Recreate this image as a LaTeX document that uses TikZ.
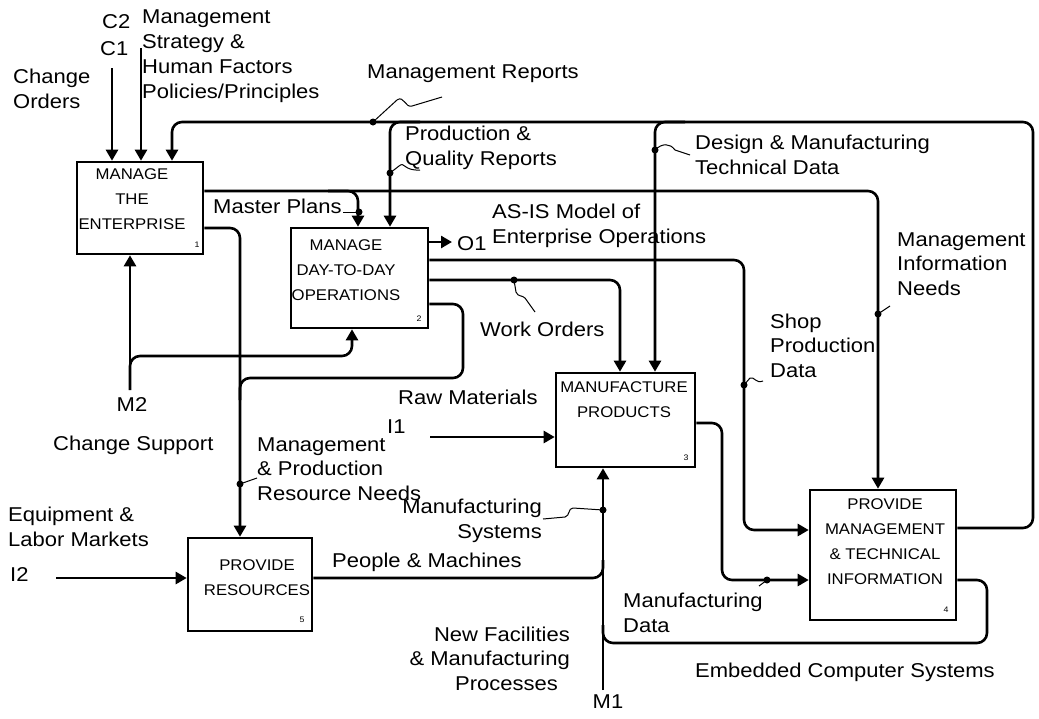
\documentclass[tikz,border=0pt]{standalone}
\usepackage{fontspec}
\setmainfont{Liberation Sans}[FakeStretch=1.1]
\newfontfamily\boxfont{Liberation Sans}[FakeStretch=1.08]
\usetikzlibrary{arrows.meta}
\begin{document}
\begin{tikzpicture}[x=1pt,y=-1pt,
  ln/.style={line width=2.6pt},
  arr/.style={ln,-{Triangle[length=11pt,width=12pt]}},
  rc/.style={rounded corners=10pt},
  box/.style={draw, line width=2.6pt, inner sep=0pt},
  lab/.style={inner sep=0pt, align=left, anchor=base west, font=\fontsize{20}{24.5}\selectfont},
  labr/.style={inner sep=0pt, align=right, anchor=base east, font=\fontsize{20}{24.5}\selectfont},
  btxt/.style={inner sep=0pt, align=center, anchor=base, font=\boxfont\fontsize{15.5}{25}\selectfont},
  num/.style={inner sep=0pt, anchor=base, font=\fontsize{8}{8}\selectfont},
  dot/.style={circle, fill, inner sep=0pt, minimum size=7pt},
  callout/.style={line width=1pt},
]
\useasboundingbox (0,0) rectangle (1039,718);
\fill[white] (0,0) rectangle (1039,718);

% ---------- boxes ----------
\node[box, minimum width=126pt, minimum height=92pt] (b1) at (140,208) {};
\node[box, minimum width=137pt, minimum height=100pt] (b2) at (359.5,278) {};
\node[box, minimum width=139pt, minimum height=94pt] (b3) at (625.5,420) {};
\node[box, minimum width=146pt, minimum height=130pt] (b4) at (883,555) {};
\node[box, minimum width=124pt, minimum height=93pt] (b5) at (250,584.5) {};

% (base anchor of a multi-line node = baseline of its last line)
\node[btxt] (t1) at (132,229) {MANAGE\\THE\\ENTERPRISE};
\node[btxt] (t2) at (346,300) {MANAGE\\DAY-TO-DAY\\OPERATIONS};
\node[btxt] (t3) at (624,417) {MANUFACTURE\\PRODUCTS};
\node[btxt] (t4) at (885,584) {PROVIDE\\MANAGEMENT\\\& TECHNICAL\\INFORMATION};
\node[btxt] (t5) at (257,595) {PROVIDE\\RESOURCES};

\node[num] (n1) at (197,247) {1};
\node[num] (n2) at (419,321) {2};
\node[num] (n3) at (686,460) {3};
\node[num] (n4) at (946,612) {4};
\node[num] (n5) at (302,622) {5};

% ---------- coordinates ----------
\coordinate (C1s) at (112,68);
\coordinate (C2s) at (141,48);
\coordinate (MRa) at (1033,528);
\coordinate (MRb) at (1033,122);
\coordinate (MRc) at (172,122);
\coordinate (PQ) at (390,122);
\coordinate (PQr) at (420,122);
\coordinate (DM) at (655,122);
\coordinate (DMr) at (685,122);
\coordinate (MPa) at (878,191);
\coordinate (MPb) at (358,191);
\coordinate (MPbl) at (328,191);
\coordinate (O1e) at (452,242);
\coordinate (SPa) at (744,260);
\coordinate (SPb) at (744,530);
\coordinate (WOa) at (620,280);
\coordinate (RNa) at (463,304);
\coordinate (RNb) at (463,378);
\coordinate (RNc) at (240,378);
\coordinate (RNd) at (240,228);
\coordinate (RNe) at (240,400);
\coordinate (M2s) at (130,390);
\coordinate (M2a) at (130,356);
\coordinate (M2b) at (352,356);
\coordinate (I1s) at (430,437);
\coordinate (MDa) at (722,423);
\coordinate (MDb) at (722,580);
\coordinate (M1s) at (603,690);
\coordinate (PMa) at (603,578);
\coordinate (PMb) at (603,560);
\coordinate (ECa) at (987,580);
\coordinate (ECb) at (987,643);
\coordinate (ECc) at (603,643);
\coordinate (ECd) at (603,625);
\coordinate (I2s) at (56,578);

% ---------- connectors ----------
\draw[arr] (C1s) -- (C1s |- b1.north);
\draw[arr] (C2s) -- (C2s |- b1.north);
\draw[arr, rc] (b4.east |- MRa) -- (MRa) -- (MRb) -- (MRc) -- (MRc |- b1.north);
\draw[arr, rc] (PQr) -- (PQ) -- (PQ |- b2.north);
\draw[arr, rc] (DMr) -- (DM) -- (DM |- b3.north);
\draw[arr, rc] (b1.east |- MPa) -- (MPa) -- (MPa |- b4.north);
\draw[arr, rc] (MPbl) -- (MPb) -- (MPb |- b2.north);
\draw[arr] (b2.east |- O1e) -- (O1e);
\draw[arr, rc] (b2.east |- SPa) -- (SPa) -- (SPb) -- (b4.west |- SPb);
\draw[arr, rc] (b2.east |- WOa) -- (WOa) -- (WOa |- b3.north);
\draw[ln, rc] (b2.east |- RNa) -- (RNa) -- (RNb) -- (RNc) -- (RNe);
\draw[arr, rc] (b1.east |- RNd) -- (RNd) -- (RNd |- b5.north);
\draw[arr] (M2s) -- (M2s |- b1.south);
\draw[arr, rc] (M2s) -- (M2a) -- (M2b) -- (M2b |- b2.south);
\draw[arr] (I1s) -- (b3.west |- I1s);
\draw[arr, rc] (b3.east |- MDa) -- (MDa) -- (MDb) -- (b4.west |- MDb);
\draw[arr] (M1s) -- (M1s |- b3.south);
\draw[ln, rc] (b5.east |- PMa) -- (PMa) -- (PMb);
\draw[ln, rc] (b4.east |- ECa) -- (ECa) -- (ECb) -- (ECc) -- (ECd);
\draw[arr] (I2s) -- (b5.west |- I2s);

% ---------- dots and callouts ----------
\node[dot] (dMR) at (373,122) {};
\node[dot] (dPQ) at (390,173) {};
\node[dot] (dDM) at (655,150) {};
\node[dot] (dMP) at (359,212) {};
\node[dot] (dMI) at (878,314) {};
\node[dot] (dSP) at (744,385) {};
\node[dot] (dWO) at (514,280) {};
\node[dot] (dRN) at (240,484) {};
\node[dot] (dMS) at (603,510) {};
\node[dot] (dMD) at (767,580) {};

\coordinate (kMR) at (442,97);
\coordinate (kPQ) at (420,170);
\coordinate (kDM) at (690,155);
\coordinate (kMP) at (343,212);
\coordinate (kMI) at (890,306);
\coordinate (kSP) at (763,381);
\coordinate (kWO) at (535,312);
\coordinate (kRN) at (257,478);
\coordinate (kMS) at (543,519);
\coordinate (kMD) at (759,586);

\draw[callout] (dMR.center) -- (397,100) .. controls (404,95) and (405,108) .. (412,106) -- (kMR);
\draw[callout] (dPQ.center) -- (399,166) .. controls (405,161) and (403,171) .. (kPQ);
\draw[callout] (dDM.center) .. controls (662,143) and (670,143) .. (675,150) -- (kDM);
\draw[callout] (dMP.center) -- (kMP);
\draw[callout] (dMI.center) -- (kMI);
\draw[callout] (dSP.center) -- (750,378) .. controls (754,376) and (756,384) .. (kSP);
\draw[callout] (dWO.center) -- (516,292) .. controls (518,297) and (522,295) .. (525,298) -- (kWO);
\draw[callout] (dRN.center) -- (kRN);
\draw[callout] (dMS.center) -- (573,508) .. controls (568,508) and (570,516) .. (565,517) -- (kMS);
\draw[callout] (dMD.center) -- (kMD);

% ---------- labels (base = baseline of last line) ----------
\node[lab] (lC2) at (102,28) {C2};
\node[lab] (lC1) at (100,55) {C1};
\node[lab, font=\fontsize{20}{25}\selectfont] (lMS) at (142,98) {Management\\Strategy \&\\Human Factors\\Policies/Principles};
\node[lab] (lCO) at (13,108) {Change\\Orders};
\node[lab] (lMR) at (367,78) {Management Reports};
\node[lab] (lPQ) at (405,165) {Production \&\\Quality Reports};
\node[lab] (lDM) at (695,174) {Design \& Manufacturing\\Technical Data};
\node[lab] (lMP) at (213,213) {Master Plans};
\node[lab] (lAS) at (492,243) {AS-IS Model of\\Enterprise Operations};
\node[lab] (lO1) at (457,250) {O1};
\node[lab] (lMI) at (897,295) {Management\\Information\\Needs};
\node[lab] (lSP) at (770,377) {Shop\\Production\\Data};
\node[lab] (lWO) at (480,336) {Work Orders};
\node[lab] (lRM) at (398,404) {Raw Materials};
\node[lab] (lI1) at (387,433) {I1};
\node[lab] (lRN) at (257,500) {Management\\\& Production\\Resource Needs};
\node[lab, anchor=base] (lM2) at (132,411) {M2};
\node[lab] (lCS) at (53,450) {Change Support};
\node[lab] (lEL) at (8,546) {Equipment \&\\Labor Markets};
\node[lab] (lI2) at (10,581) {I2};
\node[lab] (lPM) at (332,567) {People \& Machines};
\node[labr] (lMSy) at (542,538) {Manufacturing\\Systems};
\node[labr] (lNF) at (570,690) {New Facilities\\\& Manufacturing\\Processes\hspace*{12pt}};
\node[lab, anchor=base] (lM1) at (608,708) {M1};
\node[lab] (lMD) at (623,632) {Manufacturing\\Data};
\node[lab] (lEC) at (695,677) {Embedded Computer Systems};
\end{tikzpicture}
\end{document}
